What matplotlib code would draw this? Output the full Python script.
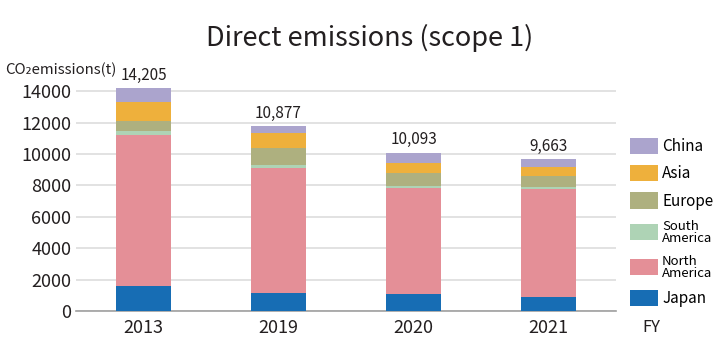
import matplotlib
matplotlib.use("Agg")
import matplotlib.pyplot as plt
from matplotlib.patches import Patch
import numpy as np

plt.rcParams['font.family'] = ['Noto Sans CJK JP', 'DejaVu Sans']

years = ['2013', '2019', '2020', '2021']
totals = ['14,205', '10,877', '10,093', '9,663']

# stacked from bottom to top
regions = ['Japan', 'North\nAmerica', 'South\nAmerica', 'Europe', 'Asia', 'China']
japan = [1600, 1170, 1060, 890]
north_america = [9600, 7910, 6770, 6855]
south_america = [250, 210, 130, 170]
europe = [650, 1080, 840, 695]
asia = [1200, 935, 620, 556]
china = [905, 470, 673, 497]
series = [japan, north_america, south_america, europe, asia, china]
colors = ['#176db4', '#e48f97', '#aed3b5', '#aeb07f', '#eeb03c', '#aba4cd']

fig = plt.figure(figsize=(7.2, 3.6), dpi=100)
ax = fig.add_axes([0.1056, 0.136, 0.75, 0.637])

x = np.arange(len(years))
bottom = np.zeros(len(years))
for vals, c in zip(series, colors):
    ax.bar(x, vals, width=0.41, bottom=bottom, color=c, zorder=3)
    bottom += np.array(vals)

for xi, top, lab in zip(x, bottom, totals):
    ax.annotate(lab, (xi, top), xytext=(0, 3), textcoords='offset points',
                ha='center', va='bottom', fontsize=11, color='#231f20')

ax.set_xlim(-0.5, 3.5)
ax.set_ylim(0, 14600)
ax.set_yticks(np.arange(0, 14001, 2000))
ax.set_xticks(x)
ax.set_xticklabels(years)
ax.tick_params(axis='both', length=0, labelsize=13, colors='#231f20')
ax.tick_params(axis='x', pad=6)
ax.yaxis.grid(True, color='#dddddd', linewidth=1.2, zorder=0)
for s in ['top', 'right', 'left']:
    ax.spines[s].set_visible(False)
ax.spines['bottom'].set_color('#a0a0a0')
ax.spines['bottom'].set_linewidth(1.2)

fig.text(0.513, 0.895, 'Direct emissions (scope 1)', ha='center', va='center',
         fontsize=19.5, color='#231f20')
fig.text(0.007, 0.805, 'CO\u2082emissions(t)', ha='left', va='center',
         fontsize=10.8, color='#231f20')
fig.text(0.905, 0.09, 'FY', ha='center', va='center', fontsize=12, color='#231f20')

handles = [Patch(facecolor=c) for c in colors][::-1]
labels = regions[::-1]
leg = fig.legend(handles, labels, loc='upper left', bbox_to_anchor=(0.875, 0.617),
                 frameon=False, fontsize=11, handlelength=1.8, handleheight=1.25,
                 handletextpad=0.3, labelspacing=0.66, borderpad=0, borderaxespad=0)
for t in leg.get_texts():
    if '\n' in t.get_text():
        t.set_fontsize(9.5)
        t.set_linespacing(0.9)

fig.savefig('out.png', dpi=100)
